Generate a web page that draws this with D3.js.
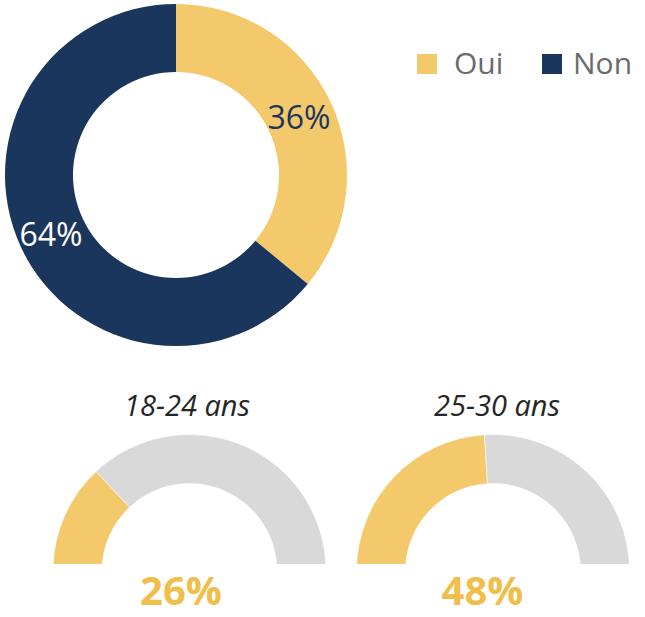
<!DOCTYPE html>
<html><head><meta charset="utf-8">
<script src="https://cdn.jsdelivr.net/npm/d3@7"></script>
<style>body{margin:0;background:#fff}svg{display:block}text{font-family:"Open Sans",sans-serif}</style>
</head><body>
<svg id="c" width="645" height="617"></svg>
<script>
const categories = ["Oui", "Non"];
const mainValues = [36, 64];
const groups = ["18-24 ans", "25-30 ans"];
const groupOui = [26, 48];

const colors = {Oui: "#F3C96B", Non: "#1B365D", rest: "#D9D9D9"};
const svg = d3.select("#c");

// main donut
const pie = d3.pie().sort(null).value(d => d.v);
const mainData = pie(categories.map((c, i) => ({c, v: mainValues[i]})));
const arcMain = d3.arc().innerRadius(103).outerRadius(171);
const gMain = svg.append("g").attr("transform", "translate(176,175)");
gMain.selectAll("path").data(mainData).join("path")
  .attr("d", arcMain).attr("fill", d => colors[d.data.c]);

// labels
svg.append("text").attr("x", 299).attr("y", 129).attr("text-anchor", "middle")
  .attr("font-size", 32).attr("fill", "#1B365D").text(mainValues[0] + "%");
svg.append("text").attr("x", 51).attr("y", 246).attr("text-anchor", "middle")
  .attr("font-size", 32).attr("fill", "#ffffff").text(mainValues[1] + "%");

// legend
const legX = [417, 542];
categories.forEach((c, i) => {
  svg.append("rect").attr("x", legX[i]).attr("y", 54).attr("width", 20).attr("height", 20).attr("fill", colors[c]);
  svg.append("text").attr("x", legX[i] + 37 - (i ? 6 : 0)).attr("y", 74).attr("font-size", 30)
    .attr("fill", "#6B6B6B").text(c);
});

// semi donuts
svg.append("defs").append("clipPath").attr("id", "clipSemi")
  .append("rect").attr("x", -200).attr("y", -200).attr("width", 400).attr("height", 193);
const semiPie = d3.pie().sort(null).value(d => d.v).startAngle(-Math.PI / 2).endAngle(Math.PI / 2);
const arcSemi = d3.arc().innerRadius(87.5).outerRadius(136.5);
const cx = [189.5, 493];
const titleX = [187, 497];
const pctX = [181, 482.5];
groups.forEach((gname, i) => {
  const g = svg.append("g").attr("transform", `translate(${cx[i]},571)`);
  const data = semiPie([{k: "Oui", v: groupOui[i]}, {k: "rest", v: 100 - groupOui[i]}]);
  g.append("g").attr("clip-path", "url(#clipSemi)")
    .selectAll("path").data(data).join("path")
    .attr("d", arcSemi).attr("fill", d => colors[d.data.k])
    .attr("stroke", "#fff").attr("stroke-width", 0.5);
  svg.append("text").attr("x", titleX[i]).attr("y", 416).attr("text-anchor", "middle")
    .attr("font-size", 29).attr("font-style", "italic").attr("fill", "#262626").text(gname);
  svg.append("text").attr("x", pctX[i]).attr("y", 605).attr("text-anchor", "middle")
    .attr("font-size", 40).attr("font-weight", "bold").attr("fill", "#F0BE4A").text(groupOui[i] + "%");
});
</script>
</body></html>
